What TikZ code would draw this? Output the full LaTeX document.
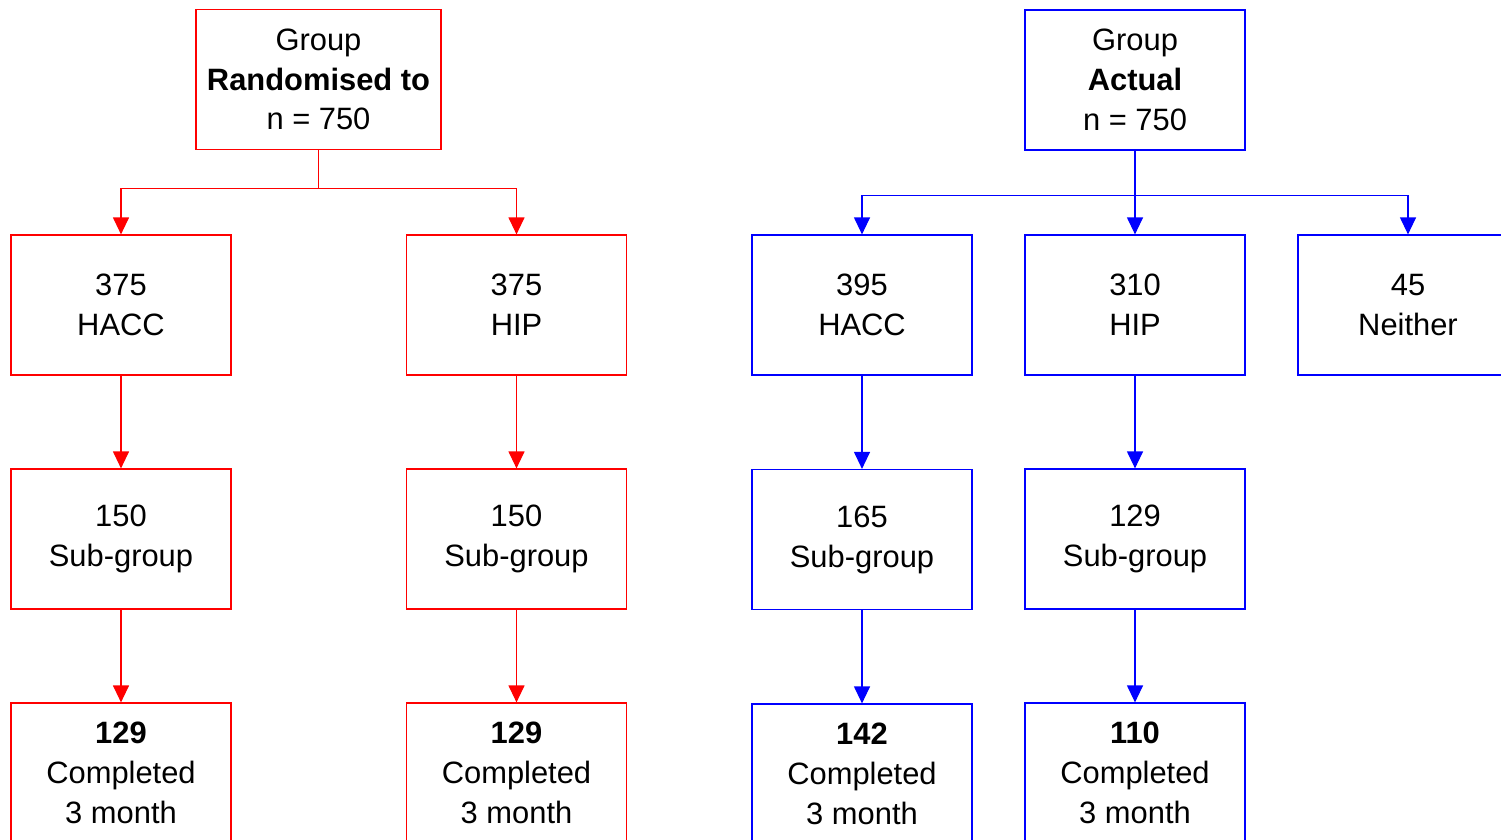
\documentclass[tikz,border=0pt]{standalone}
\usepackage{fontspec}
\setmainfont{Liberation Sans}
\usetikzlibrary{arrows, arrows.meta}

\begin{document}
\begin{tikzpicture}[x=1bp,y=-1bp,
  box/.style={draw, line width=1.2bp, minimum width=220bp, minimum height=140bp, inner sep=0pt, align=center, font=\fontsize{31}{40}\selectfont},
  arr/.style={line width=1.2bp, -{Triangle[width=16bp,length=17bp]}}]
%\draw[step=100,gray,very thin] (0,0) grid (1500,839); %background grid
\useasboundingbox (0,0) rectangle (1501,839);
\clip (0,0) rectangle (1501,839);
% randomised
\node[box, draw=red, minimum width=245bp] (rtop) at (318.5,79.5) {Group\\\textbf{Randomised to}\\n = 750};
\node[box, draw=red] (rhacc) at (121,305) {375\\HACC};
\node[box, draw=red] (rhip) at (516.5,305) {375\\HIP};
\node[box, draw=red] (rsubhacc) at (121,539) {150\\Sub-group};
\node[box, draw=red] (rsubhip) at (516.5,539) {150\\Sub-group};
\node[box, draw=red] (rcomphacc) at (121,773) {\textbf{129}\\Completed\\3 month};
\node[box, draw=red] (rcomphip) at (516.5,773) {\textbf{129}\\Completed\\3 month};
\draw[arr, red] (rtop.south) -- ++(0,38) -| (rhacc.north);
\draw[arr, red] (rtop.south) -- ++(0,38) -| (rhip.north);
\draw[arr, red] (rhacc) -- (rsubhacc);
\draw[arr, red] (rhip) -- (rsubhip);
\draw[arr, red] (rsubhacc) -- (rcomphacc);
\draw[arr, red] (rsubhip) -- (rcomphip);
% actual
\node[box, draw=blue] (atop) at (1135,80) {Group\\\textbf{Actual}\\n = 750};
\node[box, draw=blue] (ahacc) at (862,305) {395\\HACC};
\node[box, draw=blue] (ahip) at (1135,305) {310\\HIP};
\node[box, draw=blue] (aneither) at (1408,305) {45\\Neither};
\node[box, draw=blue] (asubhacc) at (862,539.5) {165\\Sub-group};
\node[box, draw=blue] (asubhip) at (1135,539) {129\\Sub-group};
\node[box, draw=blue] (acomphacc) at (862,774) {\textbf{142}\\Completed\\3 month};
\node[box, draw=blue] (acomphip) at (1135,773) {\textbf{110}\\Completed\\3 month};
\draw[arr, blue] (atop.south) -- ++(0,45) -| (ahacc.north);
\draw[arr, blue] (atop) -- (ahip);
\draw[arr, blue] (atop.south) -- ++(0,45) -| (aneither.north);
\draw[arr, blue] (ahacc) -- (asubhacc);
\draw[arr, blue] (ahip) -- (asubhip);
\draw[arr, blue] (asubhacc) -- (acomphacc);
\draw[arr, blue] (asubhip) -- (acomphip);
\end{tikzpicture}
\end{document}
